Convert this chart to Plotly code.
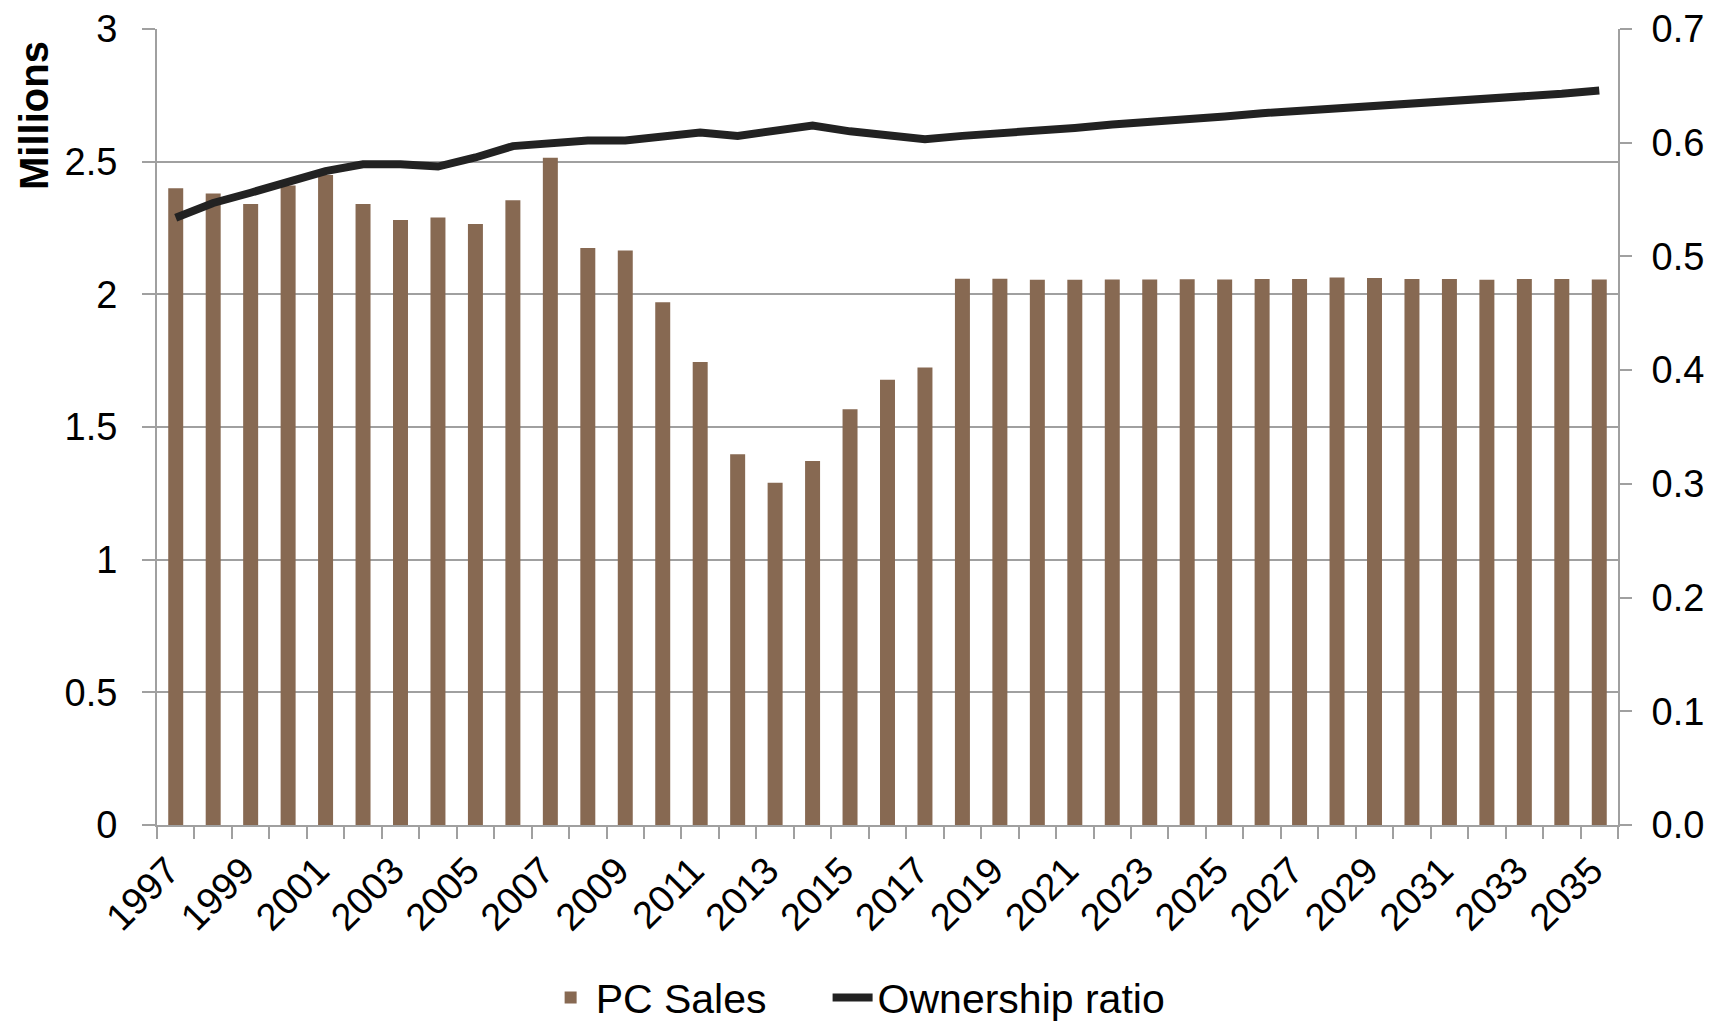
"""PC sales vs ownership ratio, 1997-2035."""

import plotly.graph_objects as go

years = list(range(1997, 2036))

pc_sales = [
    2.40, 2.38, 2.34, 2.41, 2.45, 2.34, 2.28, 2.29, 2.265, 2.355,
    2.515, 2.175, 2.165, 1.97, 1.745, 1.397, 1.29, 1.372, 1.567, 1.678,
    1.724, 2.059, 2.059, 2.055, 2.055, 2.056, 2.056, 2.057, 2.056, 2.058,
    2.058, 2.063, 2.062, 2.058, 2.058, 2.055, 2.058, 2.058, 2.056,
]

ownership = [
    0.534, 0.547, 0.556, 0.565, 0.575, 0.581, 0.581, 0.579, 0.587, 0.597,
    0.600, 0.602, 0.602, 0.605, 0.609, 0.606, 0.611, 0.615, 0.610, 0.606,
    0.603, 0.606, 0.608, 0.611, 0.613, 0.616, 0.618, 0.621, 0.623, 0.626,
    0.628, 0.630, 0.632, 0.635, 0.637, 0.639, 0.641, 0.643, 0.646,
]

label_years = years[::2]
boundaries = [y - 0.5 for y in years] + [years[-1] + 0.5]

FONT = "Liberation Sans, Arial, sans-serif"
GRID = "#a0a0a0"

fig = go.Figure()
fig.add_trace(go.Bar(x=years, y=pc_sales, name="PC Sales", width=0.4,
                     marker=dict(color="#876952", line=dict(width=0)),
                     legend="legend"))
fig.add_trace(go.Scatter(x=years, y=ownership, name="Ownership ratio", mode="lines",
                         yaxis="y2", line=dict(color="#222222", width=8),
                         legend="legend2"))

legend_style = dict(orientation="h", xanchor="left", y=-0.217, yanchor="middle",
                    font=dict(size=41), bgcolor="rgba(0,0,0,0)", itemwidth=40)

# page body adds ~8px offset, so the figure is 8px smaller than the window
fig.update_layout(
    width=1711,
    height=1013,
    autosize=False,
    margin=dict(l=149, r=101, t=21, b=196, autoexpand=False),
    paper_bgcolor="white",
    plot_bgcolor="white",
    font=dict(family=FONT, size=38, color="black"),
    showlegend=True,
    legend=dict(x=0.266, **legend_style),
    legend2=dict(x=0.459, **legend_style),
    xaxis=dict(
        range=[1996.5, 2035.5],
        automargin=False,
        tickmode="array",
        tickvals=[y - 0.2 for y in label_years],
        ticktext=[str(y) for y in label_years],
        tickangle=-45,
        ticks="",
        ticklabelstandoff=6,
        showgrid=False,
        zeroline=False,
        showline=True,
        linecolor=GRID,
        linewidth=2,
        minor=dict(tickmode="array", tickvals=boundaries, ticks="outside",
                   ticklen=12, tickwidth=2, tickcolor=GRID, showgrid=False),
    ),
    yaxis=dict(
        range=[0, 3],
        automargin=False,
        dtick=0.5,
        ticks="outside",
        ticklen=13,
        tickwidth=2,
        tickcolor=GRID,
        ticklabelstandoff=17,
        showgrid=True,
        gridcolor=GRID,
        gridwidth=2,
        zeroline=False,
        showline=True,
        linecolor=GRID,
        linewidth=2,
    ),
    yaxis2=dict(
        range=[0, 0.7],
        automargin=False,
        dtick=0.1,
        tickformat=".1f",
        overlaying="y",
        side="right",
        ticks="outside",
        ticklen=12,
        tickwidth=2,
        tickcolor=GRID,
        ticklabelstandoff=12,
        showgrid=False,
        zeroline=False,
        showline=True,
        linecolor=GRID,
        linewidth=2,
    ),
    annotations=[
        dict(text="<b>Millions</b>", textangle=-90, xref="paper", yref="paper",
             x=-0.0842, y=0.892, xanchor="center", yanchor="middle",
             showarrow=False, font=dict(size=40, family=FONT)),
    ],
)

fig.write_html("out.html")
